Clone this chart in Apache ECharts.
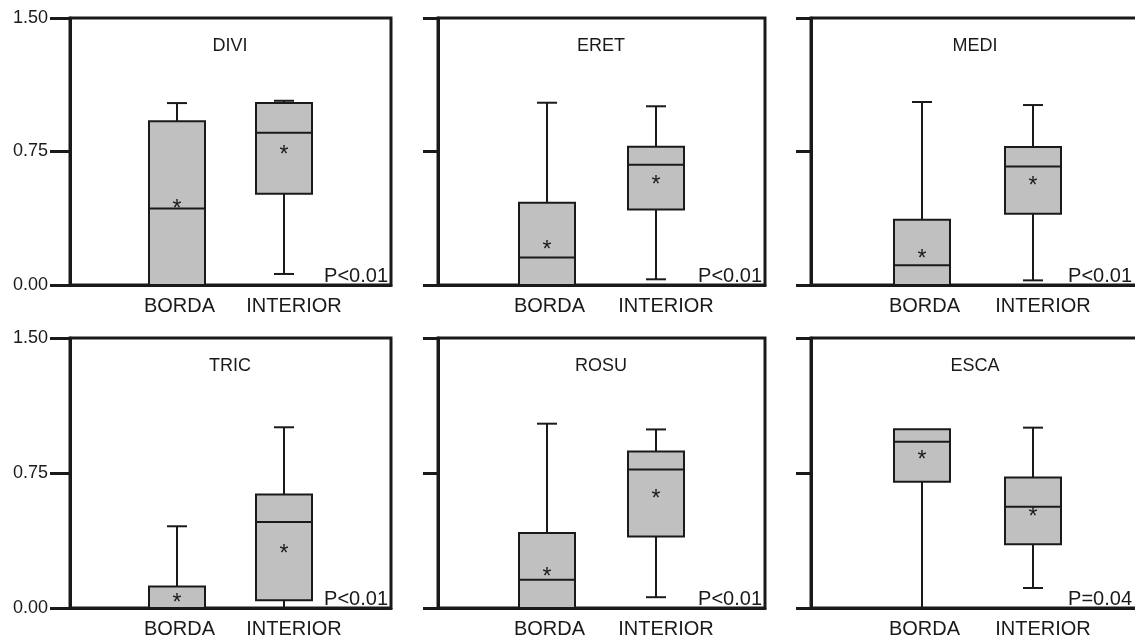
<!DOCTYPE html>
<html>
<head>
<meta charset="utf-8">
<script src="https://cdn.jsdelivr.net/npm/echarts@6/dist/echarts.min.js"></script>
<style>
  html, body { margin: 0; padding: 0; background: #ffffff; overflow: hidden; }
  #chart { width: 1135px; height: 643px; }
</style>
</head>
<body>
<div id="chart"></div>
<script>
// Panel names, groups and test results
const panelNames = ['DIVI', 'ERET', 'MEDI', 'TRIC', 'ROSU', 'ESCA'];
const groups = ['BORDA', 'INTERIOR'];
const pLabels = ['P<0.01', 'P<0.01', 'P<0.01', 'P<0.01', 'P<0.01', 'P=0.04'];
const yTicks = [0, 0.75, 1.5];

// Five-number summaries [min, Q1, median, Q3, max] for BORDA and INTERIOR
const boxDIVI = [[0, 0, 0.43, 0.92, 1.022], [0.062, 0.512, 0.855, 1.022, 1.035]];
const boxERET = [[0, 0, 0.155, 0.462, 1.024], [0.032, 0.424, 0.675, 0.776, 1.004]];
const boxMEDI = [[0, 0, 0.111, 0.366, 1.028], [0.026, 0.40, 0.666, 0.775, 1.011]];
const boxTRIC = [[0, 0, 0, 0.12, 0.454], [0, 0.043, 0.478, 0.63, 1.004]];
const boxROSU = [[0, 0, 0.157, 0.416, 1.024], [0.06, 0.397, 0.769, 0.87, 0.992]];
const boxESCA = [[0, 0.701, 0.924, 0.993, 0.993], [0.111, 0.354, 0.562, 0.725, 1.002]];

// Group means (marked with an asterisk)
const meanDIVI = [0.456, 0.763];
const meanERET = [0.228, 0.593];
const meanMEDI = [0.176, 0.585];
const meanTRIC = [0.059, 0.33];
const meanROSU = [0.204, 0.633];
const meanESCA = [0.85, 0.538];

const boxes = [boxDIVI, boxERET, boxMEDI, boxTRIC, boxROSU, boxESCA];
const means = [meanDIVI, meanERET, meanMEDI, meanTRIC, meanROSU, meanESCA];

// Layout of the 2 x 3 panel grid (the third column runs past the right edge)
const colLayout = [
  { left: 70, right: 744, tickLen: 20, showLabels: true, pRight: 388, titleX: 230 },
  { left: 438, right: 370, tickLen: 15, showLabels: false, pRight: 762, titleX: 601 },
  { left: 811, right: -9, tickLen: 15, showLabels: false, pRight: 1132, titleX: 975 }
];
const rowLayout = [
  { top: 18, height: 267 },
  { top: 338, height: 270 }
];

const FONT = '"Liberation Sans", Arial, Helvetica, sans-serif';
const INK = '#1a1a1a';
const BOX_W = 56;
const CAP_W = 20;

function renderBox(params, api) {
  const cat = api.value(0);
  const v = [1, 2, 3, 4, 5].map(i => api.value(i));
  const mean = api.value(6);
  const yOf = val => api.coord([cat, val])[1];
  const xc = api.coord([cat, 0])[0];
  const y = v.map(yOf);
  const half = BOX_W / 2;
  const capHalf = CAP_W / 2;
  const stroke = { stroke: INK, lineWidth: 2 };
  const line = (x1, y1, x2, y2) => ({ type: 'line', shape: { x1, y1, x2, y2 }, style: stroke });
  const children = [];
  if (v[4] > v[3]) {
    children.push(line(xc, y[4], xc, y[3]));
    children.push(line(xc - capHalf, y[4], xc + capHalf, y[4]));
  }
  if (v[1] > v[0]) {
    children.push(line(xc, y[1], xc, y[0]));
    children.push(line(xc - capHalf, y[0], xc + capHalf, y[0]));
  }
  children.push({
    type: 'rect',
    shape: { x: xc - half, y: y[3], width: BOX_W, height: y[1] - y[3] },
    style: { fill: '#c0c0c0', stroke: INK, lineWidth: 2 }
  });
  children.push(line(xc - half, y[2], xc + half, y[2]));
  children.push({
    type: 'text',
    x: xc,
    y: yOf(mean) + 6,
    style: {
      text: '*', fill: INK, fontSize: 23, fontFamily: FONT,
      align: 'center', verticalAlign: 'middle'
    }
  });
  return { type: 'group', children };
}

const grid = [], xAxis = [], yAxis = [], series = [], graphic = [];

panelNames.forEach((name, i) => {
  const col = colLayout[i % 3];
  const row = rowLayout[Math.floor(i / 3)];
  grid.push({
    left: col.left, right: col.right, top: row.top, height: row.height,
    outerBoundsMode: 'none', containLabel: false,
    show: true, borderColor: INK, borderWidth: 3, backgroundColor: 'transparent'
  });
  xAxis.push({
    gridIndex: i,
    type: 'category',
    data: ['', ...groups, ''],
    boundaryGap: false,
    axisLine: { lineStyle: { color: INK, width: 3 } },
    axisTick: { show: false },
    axisLabel: {
      interval: 0, margin: 11, fontSize: 20, color: INK, fontFamily: FONT,
      // group names sit slightly right of their boxes
      formatter: v => v ? (v === groups[1] ? '{right|' + v + '}' : '{near|' + v + '}') : '',
      rich: {
        near: { fontSize: 20, color: INK, fontFamily: FONT, padding: [0, 0, 0, 5] },
        right: { fontSize: 20, color: INK, fontFamily: FONT, padding: [0, 0, 0, 20] }
      }
    },
    splitLine: { show: false }
  });
  yAxis.push({
    gridIndex: i,
    type: 'value',
    min: yTicks[0],
    max: yTicks[yTicks.length - 1],
    interval: yTicks[1] - yTicks[0],
    axisLine: { show: true, lineStyle: { color: INK, width: 3 } },
    axisTick: { show: true, inside: false, length: col.tickLen, lineStyle: { color: INK, width: 3 } },
    axisLabel: {
      show: col.showLabels, margin: 22, fontSize: 18, color: INK, fontFamily: FONT,
      formatter: val => val.toFixed(2)
    },
    splitLine: { show: false }
  });
  series.push({
    type: 'custom',
    name: name,
    xAxisIndex: i,
    yAxisIndex: i,
    encode: { x: 0, y: [1, 2, 3, 4, 5] },
    data: groups.map((g, k) => [g, ...boxes[i][k], means[i][k]]),
    renderItem: renderBox,
    clip: false,
    silent: true
  });
  graphic.push({
    type: 'text',
    x: col.titleX,
    y: row.top + 28,
    style: {
      text: name, fill: INK, fontSize: 18, fontFamily: FONT,
      align: 'center', verticalAlign: 'middle'
    }
  });
  graphic.push({
    type: 'text',
    x: col.pRight,
    y: row.top + row.height + 1,
    style: {
      text: pLabels[i], fill: INK, fontSize: 20, fontFamily: FONT,
      align: 'right', verticalAlign: 'bottom'
    }
  });
});

const chart = echarts.init(document.getElementById('chart'), null, { renderer: 'canvas' });
chart.setOption({
  animation: false,
  backgroundColor: '#ffffff',
  grid, xAxis, yAxis, series, graphic
});
</script>
</body>
</html>
